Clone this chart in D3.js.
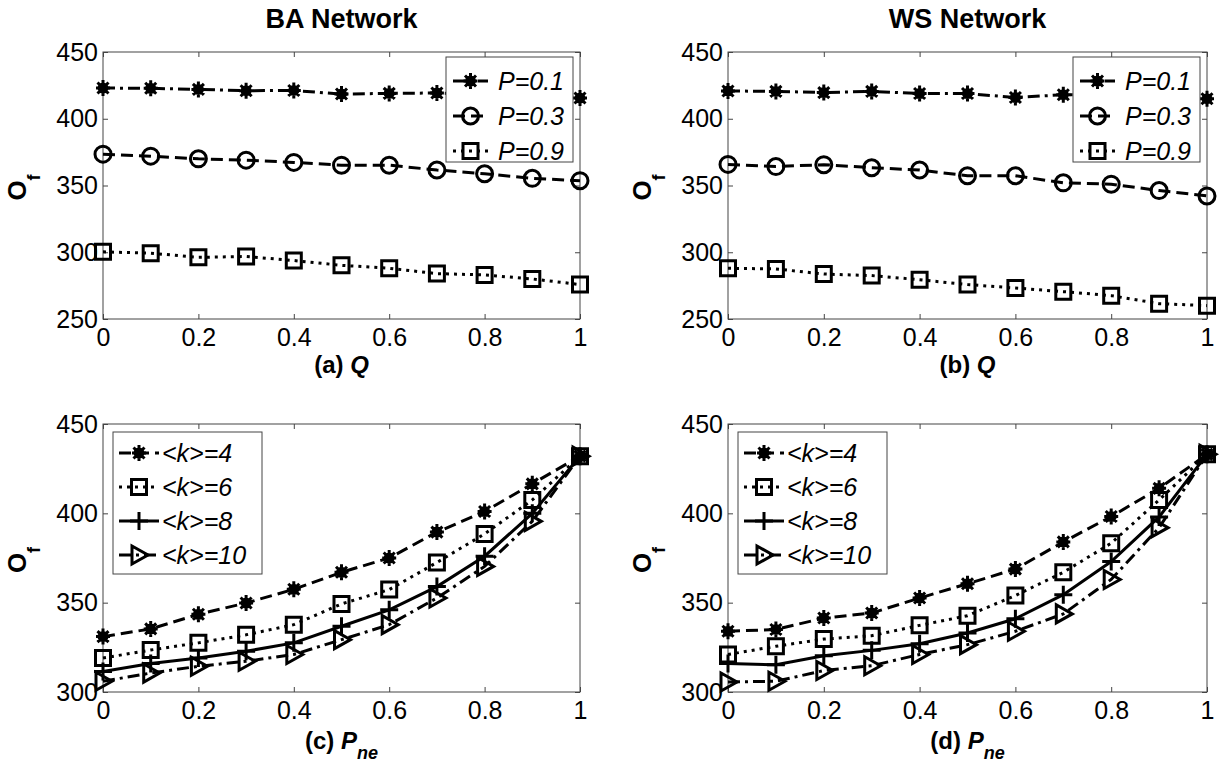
<!DOCTYPE html>
<meta charset="utf-8">

<!-- Load d3.js -->
<script src="https://d3js.org/d3.v7.min.js"></script>

<style>
  body { margin: 0; background: #fff; }
  text { font-family: "Liberation Sans", Arial, Helvetica, sans-serif; }
</style>

<div id="chart"></div>

<script>
  // x values shared by all four panels
  var xVals = [0, 0.1, 0.2, 0.3, 0.4, 0.5, 0.6, 0.7, 0.8, 0.9, 1];
  var xTicks = [0, 0.2, 0.4, 0.6, 0.8, 1];
  var yTicksTop = [250, 300, 350, 400, 450];
  var yTicksBottom = [300, 350, 400, 450];

  // (a) BA network, O_f vs Q
  var baP01 = [423, 422.8, 422, 421, 421.2, 418.5, 419, 419.3, 418, 417, 415.5];
  var baP03 = [373.5, 372, 370, 369, 367.3, 365.2, 365.2, 361.6, 358.8, 355.4, 353.6];
  var baP09 = [300.3, 299.3, 296.2, 296.8, 293.8, 290.2, 288, 284, 283, 280, 275.8];

  // (b) WS network, O_f vs Q
  var wsP01 = [420.8, 420.5, 419.6, 420.5, 418.9, 418.9, 415.9, 418, 417.5, 416.5, 415];
  var wsP03 = [365.8, 364.2, 365.6, 363.3, 361.6, 357.3, 357.3, 352, 351, 346.2, 342.2];
  var wsP09 = [288, 287.5, 283.7, 282.5, 279.4, 275.8, 273.2, 270.5, 267.5, 261.5, 260];

  // (c) BA network, O_f vs P_ne
  var baK4 = [331, 335.3, 343.5, 349.8, 357.5, 367, 375, 389.5, 401, 416.5, 432];
  var baK6 = [319, 323.5, 327.5, 332, 337.7, 349.3, 357.3, 372.5, 388.5, 407.5, 432];
  var baK8 = [311.5, 316, 319, 322.8, 327.5, 336.8, 346, 359, 376, 400, 432];
  var baK10 = [306, 310.6, 314.4, 317.2, 321, 329.3, 337.7, 352.6, 370.3, 395.5, 432];

  // (d) WS network, O_f vs P_ne
  var wsK4 = [334, 335, 341.4, 344.2, 352.6, 360.6, 368.8, 384, 398.2, 414, 433];
  var wsK6 = [321, 325.6, 329.6, 331.5, 337.3, 342.7, 354, 367, 383.3, 407.5, 433];
  var wsK8 = [316, 315.2, 320.3, 323.3, 327, 333, 341, 354.5, 373, 398, 433];
  var wsK10 = [305.6, 306, 312, 314.7, 321, 326.5, 334, 343.7, 363, 392, 433];

  var legendTop = ["P=0.1", "P=0.3", "P=0.9"];
  var legendBottom = ["<k>=4", "<k>=6", "<k>=8", "<k>=10"];

  // line styles
  var styles = {
    dashdot: "12,5,3,5",
    dash: "12,6",
    dot: "3,5",
    solid: null
  };

  // marker shapes, drawn around (0,0)
  var markers = {
    star: "M-7,0H7M0,-8V8M-5.5,-5.5L5.5,5.5M-5.5,5.5L5.5,-5.5M-4,0A4,4 0 1,1 4,0A4,4 0 1,1 -4,0Z",
    circle: "M8,0A8,8 0 1,1 -8,0A8,8 0 1,1 8,0Z",
    square: "M-7.5,-7.5H7.5V7.5H-7.5Z",
    plus: "M-9,0H9M0,-9V9",
    tri: "M-7,-9L9,0L-7,9Z"
  };

  var svg = d3.select("#chart")
      .append("svg")
      .attr("width", 1220)
      .attr("height", 766);

  var panels = [
    { left: 103, right: 580, top: 52, bottom: 319, yDomain: [250, 450], yTicks: yTicksTop,
      title: "BA Network", tag: "(a) ", xvar: "Q", sub: "", legendKind: "top",
      series: [
        { name: legendTop[0], values: baP01, dash: "dashdot", marker: "star" },
        { name: legendTop[1], values: baP03, dash: "dash", marker: "circle" },
        { name: legendTop[2], values: baP09, dash: "dot", marker: "square" }
      ] },
    { left: 728, right: 1207, top: 52, bottom: 319, yDomain: [250, 450], yTicks: yTicksTop,
      title: "WS Network", tag: "(b) ", xvar: "Q", sub: "", legendKind: "top",
      series: [
        { name: legendTop[0], values: wsP01, dash: "dashdot", marker: "star" },
        { name: legendTop[1], values: wsP03, dash: "dash", marker: "circle" },
        { name: legendTop[2], values: wsP09, dash: "dot", marker: "square" }
      ] },
    { left: 103, right: 580, top: 424, bottom: 692, yDomain: [300, 450], yTicks: yTicksBottom,
      title: "", tag: "(c) ", xvar: "P", sub: "ne", legendKind: "bottom",
      series: [
        { name: legendBottom[0], values: baK4, dash: "dash", marker: "star" },
        { name: legendBottom[1], values: baK6, dash: "dot", marker: "square" },
        { name: legendBottom[2], values: baK8, dash: "solid", marker: "plus" },
        { name: legendBottom[3], values: baK10, dash: "dashdot", marker: "tri" }
      ] },
    { left: 728, right: 1207, top: 424, bottom: 692, yDomain: [300, 450], yTicks: yTicksBottom,
      title: "", tag: "(d) ", xvar: "P", sub: "ne", legendKind: "bottom",
      series: [
        { name: legendBottom[0], values: wsK4, dash: "dash", marker: "star" },
        { name: legendBottom[1], values: wsK6, dash: "dot", marker: "square" },
        { name: legendBottom[2], values: wsK8, dash: "solid", marker: "plus" },
        { name: legendBottom[3], values: wsK10, dash: "dashdot", marker: "tri" }
      ] }
  ];

  panels.forEach(function (p) {
    var x = d3.scaleLinear().domain([0, 1]).range([p.left, p.right]);
    var y = d3.scaleLinear().domain(p.yDomain).range([p.bottom, p.top]);
    var g = svg.append("g");

    // axes with ticks pointing inward (box on all four sides)
    g.append("g")
        .attr("transform", "translate(0," + p.bottom + ")")
        .call(d3.axisBottom(x).tickValues(xTicks).tickFormat(d3.format("")).tickSize(-5).tickPadding(9));
    g.append("g")
        .attr("transform", "translate(" + p.left + ",0)")
        .call(d3.axisLeft(y).tickValues(p.yTicks).tickSize(-5).tickPadding(5));
    g.append("g")
        .attr("transform", "translate(0," + p.top + ")")
        .call(d3.axisTop(x).tickValues(xTicks).tickFormat("").tickSize(-5));
    g.append("g")
        .attr("transform", "translate(" + p.right + ",0)")
        .call(d3.axisRight(y).tickValues(p.yTicks).tickFormat("").tickSize(-5));
    g.selectAll(".domain").remove();
    g.selectAll(".tick line").attr("stroke", "#444");
    g.selectAll(".tick text").attr("fill", "#000").style("font-size", "25px");

    g.append("rect")
        .attr("x", p.left).attr("y", p.top)
        .attr("width", p.right - p.left).attr("height", p.bottom - p.top)
        .attr("fill", "none").attr("stroke", "#444").attr("stroke-width", 1);

    // series lines and markers
    var line = d3.line()
        .x(function (d, i) { return x(xVals[i]); })
        .y(function (d) { return y(d); });

    p.series.forEach(function (s) {
      g.append("path")
          .datum(s.values)
          .attr("d", line)
          .attr("fill", "none")
          .attr("stroke", "#000")
          .attr("stroke-width", 3)
          .attr("stroke-dasharray", styles[s.dash]);
      g.selectAll(null)
          .data(s.values)
          .enter()
          .append("path")
          .attr("transform", function (d, i) { return "translate(" + x(xVals[i]) + "," + y(d) + ")"; })
          .attr("d", markers[s.marker])
          .attr("fill", s.marker === "star" ? "#000" : "none")
          .attr("stroke", "#000")
          .attr("stroke-width", 3);
    });

    // title
    if (p.title) {
      svg.append("text")
          .attr("x", (p.left + p.right) / 2)
          .attr("y", 28)
          .attr("text-anchor", "middle")
          .style("font-size", "27px")
          .style("font-weight", "bold")
          .text(p.title);
    }

    // x label
    var xl = svg.append("text")
        .attr("x", (p.left + p.right) / 2)
        .attr("y", p.bottom + (p.sub ? 57 : 54))
        .attr("text-anchor", "middle")
        .style("font-size", "24px")
        .style("font-weight", "bold");
    xl.append("tspan").text(p.tag);
    xl.append("tspan").style("font-style", "italic").text(p.xvar);
    if (p.sub) {
      xl.append("tspan").style("font-style", "italic").style("font-size", "18px").attr("dy", 10).text(p.sub);
    }

    // y label O_f
    var yl = svg.append("text")
        .attr("transform", "translate(" + (p.left - 77) + "," + ((p.top + p.bottom) / 2 + 2) + ") rotate(-90)")
        .attr("text-anchor", "middle")
        .style("font-size", "26px")
        .style("font-weight", "bold");
    yl.append("tspan").text("O");
    yl.append("tspan").style("font-size", "18px").attr("dy", 14).text("f");

    // legend
    var lg = svg.append("g");
    var bx, by, bw, bh, rowY, lineX0, lineX1, textX;
    if (p.legendKind === "top") {
      bw = 127; bh = 105; bx = p.right - 7 - bw; by = p.top + 5;
      rowY = [24, 59, 94]; lineX0 = 7; lineX1 = 42; textX = 52;
    } else {
      bw = 149; bh = 142; bx = p.left + 10; by = p.top + 8;
      rowY = [21, 55, 89, 123]; lineX0 = 6; lineX1 = 46; textX = 49;
    }
    lg.append("rect")
        .attr("x", bx).attr("y", by).attr("width", bw).attr("height", bh)
        .attr("fill", "#fff").attr("stroke", "#444").attr("stroke-width", 1);
    p.series.forEach(function (s, i) {
      var ry = by + rowY[i];
      lg.append("line")
          .attr("x1", bx + lineX0).attr("x2", bx + lineX1)
          .attr("y1", ry).attr("y2", ry)
          .attr("stroke", "#000").attr("stroke-width", 3)
          .attr("stroke-dasharray", styles[s.dash]);
      lg.append("path")
          .attr("transform", "translate(" + (bx + (lineX0 + lineX1) / 2) + "," + ry + ")")
          .attr("d", markers[s.marker])
          .attr("fill", s.marker === "star" ? "#000" : "none")
          .attr("stroke", "#000").attr("stroke-width", 3);
      lg.append("text")
          .attr("x", bx + textX)
          .attr("y", ry + 9)
          .style("font-size", "25px")
          .style("font-style", "italic")
          .text(s.name);
    });
  });
</script>
